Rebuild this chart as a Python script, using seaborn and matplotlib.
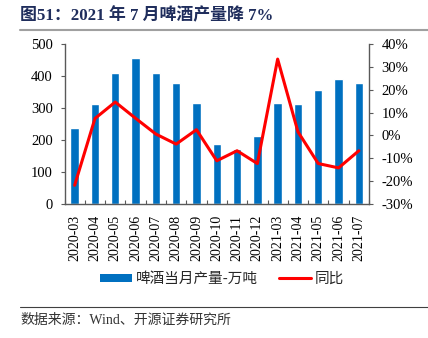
import numpy as np
import pandas as pd
import matplotlib
matplotlib.use("Agg")
import matplotlib.pyplot as plt
from matplotlib.lines import Line2D
from matplotlib.patches import Patch
from matplotlib.ticker import FuncFormatter, MultipleLocator
import seaborn as sns

# Monthly beer output (10k tonnes) and year-on-year change (%)
months = ["2020-03", "2020-04", "2020-05", "2020-06", "2020-07", "2020-08",
          "2020-09", "2020-10", "2020-11", "2020-12", "2021-03", "2021-04",
          "2021-05", "2021-06", "2021-07"]
output = [239, 311, 409, 456, 408, 378, 316, 187, 171, 212, 316, 314, 357, 390, 378]
yoy = [-21.8, 7.4, 14.6, 7.5, 0.6, -3.8, 2.5, -11.1, -6.7, -12.3, 33.4, 1.6,
       -12.3, -14.2, -6.7]

title = "图51：2021 年 7 月啤酒产量降 7%"
bar_label = "啤酒当月产量-万吨"
line_label = "同比"
source = "数据来源：Wind、开源证券研究所"

BAR_COLOR = "#0070C0"
LINE_COLOR = "#FF0000"
SPINE_COLOR = "#595959"

sns.set_style("ticks")
plt.rcParams["font.family"] = ["Liberation Serif", "Noto Sans CJK SC"]

W, H = 428, 338
fig = plt.figure(figsize=(W / 100, H / 100), dpi=100)
ax = fig.add_axes([64.5 / W, 1 - 204 / H, (369 - 64.5) / W, 160 / H])

df = pd.DataFrame({"month": months, "output": output, "yoy": yoy})
sns.barplot(data=df, x="month", y="output", color=BAR_COLOR, width=0.41,
            saturation=1, ax=ax)

ax2 = ax.twinx()
sns.pointplot(data=df, x="month", y="yoy", color=LINE_COLOR, marker="",
              linestyle="-", linewidth=2.2, errorbar=None, ax=ax2)

# Left axis: output
ax.set_ylim(0, 500)
ax.yaxis.set_major_locator(MultipleLocator(100))
ax.set_xlim(-0.5, len(months) - 0.5)
ax.set_xticks(np.arange(len(months)))
ax.set_xticklabels(months, rotation=90)
ax.set_xticks(np.arange(-0.5, len(months), 1), minor=True)
ax.tick_params(axis="x", which="major", length=0, pad=8, labelsize=10,
               colors="black")
ax.tick_params(axis="x", which="minor", direction="in", length=3,
               width=0.8, color=SPINE_COLOR)
ax.tick_params(axis="y", which="major", direction="out", length=3,
               width=0.8, color=SPINE_COLOR, pad=5.5, labelsize=10.5,
               labelcolor="black")
ax.set_xlabel("")
ax.set_ylabel("")

# Right axis: year-on-year
ax2.set_ylim(-30, 40)
ax2.yaxis.set_major_locator(MultipleLocator(10))
ax2.yaxis.set_major_formatter(FuncFormatter(lambda v, _: f"{v:.0f}%"))
ax2.tick_params(axis="y", which="major", direction="out", length=3,
                width=0.8, color=SPINE_COLOR, pad=6, labelsize=10.5,
                labelcolor="black")
ax2.set_ylabel("")
ax2.set_xlabel("")

for s in ("top", "right"):
    ax.spines[s].set_visible(False)
for s in ("top", "left", "bottom"):
    ax2.spines[s].set_visible(False)
for a, s in ((ax, "left"), (ax, "bottom"), (ax2, "right")):
    a.spines[s].set_color(SPINE_COLOR)
    a.spines[s].set_linewidth(1)

# Legend below the x labels
handles = [Patch(facecolor=BAR_COLOR, edgecolor="none"),
           Line2D([0], [0], color=LINE_COLOR, lw=2.2)]
fig.legend(handles, [bar_label, line_label], loc="center",
           bbox_to_anchor=(222 / W, 1 - 279 / H), ncol=2, frameon=False,
           prop={"family": ["Noto Sans CJK SC"], "size": 10.5},
           handlelength=2.2, handleheight=0.45, handletextpad=0.25,
           columnspacing=1.5)

# Header and footer
fig.text(20 / W, 1 - 16 / H, title, ha="left", va="center", fontsize=12.2,
         fontweight="bold", color="#1F2D5C")
fig.add_artist(Line2D([20 / W, 1], [1 - 30 / H] * 2, color="#A0A0A0", lw=1.5))
fig.add_artist(Line2D([20 / W, 1], [1 - 307 / H] * 2, color="#404040", lw=0.8))
fig.text(20 / W, 1 - 320 / H, source, ha="left", va="center", fontsize=10,
         color="#333333")

fig.savefig("out.png", dpi=100)
